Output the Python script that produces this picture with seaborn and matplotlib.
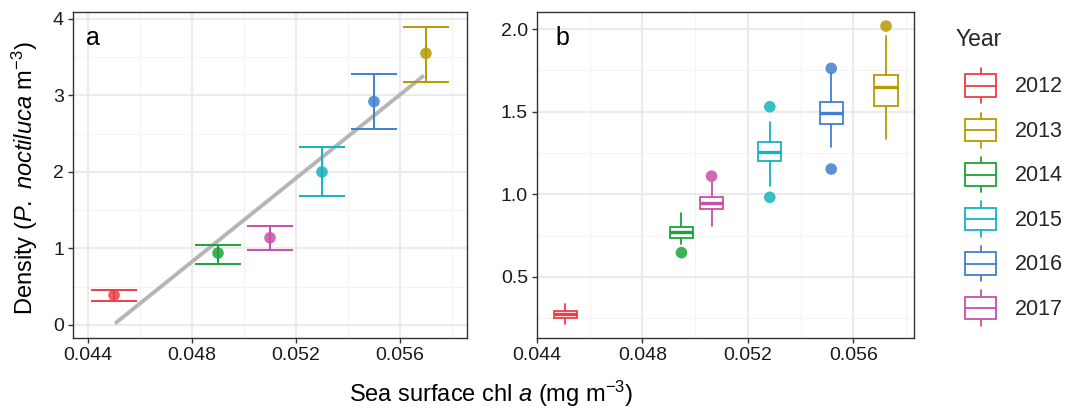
import numpy as np
import pandas as pd
import matplotlib
matplotlib.use("Agg")
import matplotlib.pyplot as plt
import seaborn as sns
from matplotlib.legend_handler import HandlerBase
from matplotlib.patches import Rectangle
from matplotlib.lines import Line2D

# ---------------- data ----------------
years = ["2012", "2013", "2014", "2015", "2016", "2017"]
colors = ["#EE3E47", "#B59A00", "#1AA43A", "#14B4BE", "#3F80D0", "#C84FA8"]

# panel a: mean density with error bars
chl_a = [0.045, 0.057, 0.049, 0.053, 0.055, 0.051]
density = [0.39, 3.55, 0.94, 2.00, 2.92, 1.14]
dens_lo = [0.32, 3.18, 0.80, 1.69, 2.56, 0.98]
dens_hi = [0.46, 3.90, 1.04, 2.32, 3.28, 1.30]
fit_x = [0.04504, 0.05692]
fit_y = [0.02, 3.26]

# panel b: box statistics per year
box_x = [0.04508, 0.05724, 0.04948, 0.05283, 0.05516, 0.05062]
box_whislo = [0.215, 1.335, 0.70, 1.052, 1.284, 0.81]
box_q1 = [0.253, 1.536, 0.737, 1.200, 1.427, 0.913]
box_med = [0.274, 1.647, 0.770, 1.254, 1.494, 0.945]
box_q3 = [0.293, 1.722, 0.800, 1.318, 1.556, 0.985]
box_whishi = [0.334, 1.960, 0.885, 1.435, 1.735, 1.076]
out_year = ["2013", "2014", "2015", "2015", "2016", "2016", "2017"]
out_x = [0.05724, 0.04948, 0.05283, 0.05283, 0.05516, 0.05516, 0.05062]
out_y = [2.018, 0.647, 1.53, 0.982, 1.762, 1.153, 1.11]

x_ticks = [0.044, 0.048, 0.052, 0.056]
x_tick_labels = ["0.044", "0.048", "0.052", "0.056"]
ya_ticks = [0, 1, 2, 3, 4]
yb_ticks = [0.5, 1.0, 1.5, 2.0]
yb_tick_labels = ["0.5", "1.0", "1.5", "2.0"]

# ---------------- style ----------------
sns.set_theme(style="whitegrid")
plt.rcParams["font.family"] = ["Liberation Sans", "DejaVu Sans"]
plt.rcParams["mathtext.fontset"] = "custom"
plt.rcParams["mathtext.rm"] = "Liberation Sans"
plt.rcParams["mathtext.it"] = "Liberation Sans:italic"
plt.rcParams["mathtext.default"] = "regular"

palette = dict(zip(years, colors))
W, H = 1070, 411
fig = plt.figure(figsize=(W / 100, H / 100), dpi=100)
ax1 = fig.add_axes([73 / W, 1 - 338 / H, 394 / W, 326 / H])
ax2 = fig.add_axes([537 / W, 1 - 338 / H, 377 / W, 326 / H])

TICK_FS = 14
BORDER = "#333333"


def style_axes(ax):
    ax.set_facecolor("white")
    for s in ax.spines.values():
        s.set_visible(True)
        s.set_color(BORDER)
        s.set_linewidth(1.0)
    ax.grid(which="major", color="#EBEBEB", linewidth=1.5, zorder=0)
    ax.grid(which="minor", color="#F3F3F3", linewidth=0.8, zorder=0)
    ax.set_axisbelow(True)
    ax.tick_params(axis="both", which="major", direction="out", length=3.5,
                   width=1.0, color=BORDER, labelsize=TICK_FS,
                   labelcolor="#1a1a1a", pad=3, bottom=True, left=True)
    ax.tick_params(axis="both", which="minor", length=0)
    ax.set_xlabel("")
    ax.set_ylabel("")


# ---- panel a ----
df_a = pd.DataFrame({"chl": chl_a, "density": density, "Year": years})
ax1.plot(fit_x, fit_y, color="#B5B5B5", linewidth=2.8, solid_capstyle="butt", zorder=2)
for i, yr in enumerate(years):
    ax1.errorbar(chl_a[i], density[i],
                 yerr=[[density[i] - dens_lo[i]], [dens_hi[i] - density[i]]],
                 fmt="none", ecolor=colors[i], elinewidth=1.4, capsize=16.5,
                 capthick=1.4, zorder=3)
sns.scatterplot(data=df_a, x="chl", y="density", hue="Year", palette=palette,
                s=70, alpha=0.85, edgecolor="none", legend=False, ax=ax1, zorder=4)
style_axes(ax1)
ax1.set_xlim(0.04342, 0.05858)
ax1.set_ylim(-0.17, 4.09)
ax1.set_xticks(x_ticks)
ax1.set_xticklabels(x_tick_labels)
ax1.set_xticks([0.046, 0.050, 0.054, 0.058], minor=True)
ax1.set_yticks(ya_ticks)
ax1.set_yticklabels([str(v) for v in ya_ticks])
ax1.set_yticks([0.5, 1.5, 2.5, 3.5], minor=True)
ax1.text(0.033, 0.899, "a", transform=ax1.transAxes, fontsize=18, va="baseline",
         ha="left", color="black")

# ---- panel b ----
stats = []
for i in range(len(years)):
    stats.append(dict(med=box_med[i], q1=box_q1[i], q3=box_q3[i],
                      whislo=box_whislo[i], whishi=box_whishi[i], fliers=[]))
for i, st in enumerate(stats):
    c = colors[i]
    ax2.bxp([st], positions=[box_x[i]], widths=0.00088, showcaps=False,
            showfliers=False, patch_artist=True, manage_ticks=False,
            boxprops=dict(facecolor="white", edgecolor=c, linewidth=1.3),
            whiskerprops=dict(color=c, linewidth=1.3),
            medianprops=dict(color=c, linewidth=2.4, solid_capstyle="butt"),
            zorder=3)
df_out = pd.DataFrame({"x": out_x, "y": out_y, "Year": out_year})
sns.scatterplot(data=df_out, x="x", y="y", hue="Year", palette=palette, s=70,
                alpha=0.85, edgecolor="none", legend=False, ax=ax2, zorder=4)
style_axes(ax2)
ax2.set_xlim(0.044, 0.0583)
ax2.set_ylim(0.131, 2.103)
ax2.set_xticks(x_ticks)
ax2.set_xticklabels(x_tick_labels)
ax2.set_xticks([0.046, 0.050, 0.054, 0.058], minor=True)
ax2.set_yticks(yb_ticks)
ax2.set_yticklabels(yb_tick_labels)
ax2.set_yticks([0.25, 0.75, 1.25, 1.75], minor=True)
ax2.text(0.048, 0.899, "b", transform=ax2.transAxes, fontsize=18, va="baseline",
         ha="left", color="black")

# ---- axis titles ----
fig.text(491 / W, 1 - 394 / H, r"Sea surface chl $\it{a}$ (mg m$^{-3}$)",
         ha="center", va="center", fontsize=17, color="black")
fig.text(25 / W, 1 - 178 / H, r"Density ($\it{P.}$ $\it{noctiluca}$ m$^{-3}$)",
         ha="center", va="center", rotation=90, fontsize=17, color="black")


# ---- legend with boxplot keys ----
class BoxHandler(HandlerBase):
    def create_artists(self, legend, orig_handle, xdescent, ydescent, width,
                       height, fontsize, trans):
        c = orig_handle.get_color()
        x0, y0 = -xdescent, -ydescent
        inset = 7
        bx0, bw = x0 + inset, width - inset
        cx = bx0 + bw / 2
        by0, bh = y0 + height * 0.18, height * 0.64
        rect = Rectangle((bx0, by0), bw, bh, facecolor="white", edgecolor=c,
                         linewidth=1.3, transform=trans)
        med = Line2D([bx0, bx0 + bw], [by0 + bh / 2] * 2, color=c, linewidth=1.3,
                     transform=trans)
        w1 = Line2D([cx, cx], [by0 + bh, y0 + height], color=c, linewidth=1.3,
                    transform=trans)
        w2 = Line2D([cx, cx], [y0, by0], color=c, linewidth=1.3, transform=trans)
        return [w1, w2, rect, med]


handles = [Line2D([], [], color=c) for c in colors]
leg = fig.legend(handles, years, title="Year", loc="upper left",
                 bbox_to_anchor=(936 / W, 1 - 9 / H), frameon=False,
                 handler_map={Line2D: BoxHandler()}, fontsize=15.5,
                 title_fontsize=16.5, handlelength=1.9, handleheight=2.14,
                 labelspacing=0.43, handletextpad=0.85, alignment="left")
leg._legend_box.sep = 12

fig.savefig("out.png", dpi=100, facecolor="white")
